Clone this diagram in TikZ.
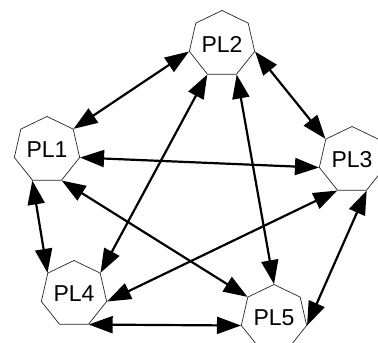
\documentclass[tikz,border=0pt]{standalone}
\usepackage{fontspec}
\setmainfont{Liberation Sans}
\usetikzlibrary{shapes.geometric,arrows.meta}
\colorlet{rimx}{black!85}
\tikzset{
    hepta/.style={draw=rimx,line width=0.7pt,regular polygon,regular polygon sides=7,
        minimum size=67pt,inner sep=0pt,font=\fontsize{23}{25}\selectfont},
    link/.style={black,line width=2.2pt,
        {Triangle[length=24pt,width=17pt]}-{Triangle[length=24pt,width=17pt]}}
}

\begin{document}
\begin{tikzpicture}[x=1pt,y=-1pt]
    \useasboundingbox (0,0) rectangle (378,343);
    \node [hepta] (pl1) at (47,150) {PL1};
    \node [hepta] (pl2) at (222,44) {PL2};
    \node [hepta] (pl3) at (352,160) {PL3};
    \node [hepta] (pl4) at (74,294) {PL4};
    \node [hepta] (pl5) at (274,318) {PL5};
    \foreach \a/\b in {pl1.corner 7/pl2.corner 3,
                       pl2.corner 6/pl3.corner 2,
                       pl1.corner 6/pl3.corner 3,
                       pl1.corner 4/pl4.corner 2,
                       pl1.corner 5/pl5.corner 2,
                       pl2.corner 4/pl4.corner 7,
                       pl2.corner 5/pl5.corner 1,
                       pl3.corner 4/pl4.corner 6,
                       pl3.corner 5/pl5.corner 6,
                       pl4.corner 5/pl5.corner 3} {
        \draw [link] (\a) -- (\b);
    }
\end{tikzpicture}
\end{document}
